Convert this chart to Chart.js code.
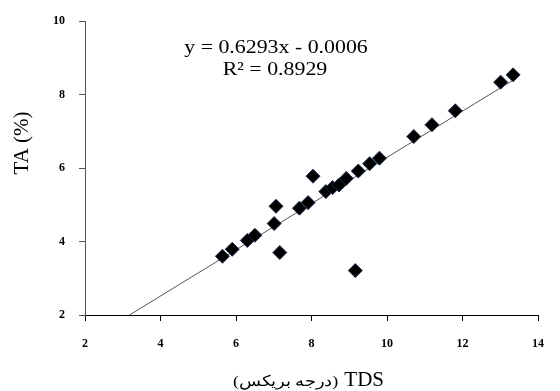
<!DOCTYPE html>
<html>
<head>
<meta charset="utf-8">
<script src="https://cdn.jsdelivr.net/npm/chart.js@4/dist/chart.umd.min.js"></script>
<style>
  body { margin: 0; background: #fff; }
  #wrap { width: 560px; height: 391px; }
</style>
</head>
<body>
<div id="wrap"><canvas id="tdsChart"></canvas></div>
<script>
// measured samples: TDS (degree Brix) vs TA (%)
const tdsValues = [5.64, 5.90, 6.30, 6.50, 7.01, 7.06, 7.16, 7.68, 7.91, 8.04, 8.38, 8.56,
                   8.73, 8.92, 9.16, 9.24, 9.54, 9.80, 10.71, 11.19, 11.81, 13.01, 13.34];
const taValues = [3.60, 3.79, 4.03, 4.17, 4.49, 4.96, 3.70, 4.91, 5.06, 5.78, 5.36, 5.47,
                  5.54, 5.72, 3.21, 5.92, 6.12, 6.27, 6.86, 7.18, 7.56, 8.34, 8.54];

// linear fit shown on the chart
const slope = 0.6293;
const intercept = -0.0006;
const rSquared = 0.8929;
const trendRange = [3.18, 13.4];

const xTicks = [2, 4, 6, 8, 10, 12, 14];
const yTicks = [2, 4, 6, 8, 10];

const xTitle = 'TDS';
const xTitleFa = '(درجه بریکس)';
const yTitle = 'TA (%)';

const points = tdsValues.map((x, i) => ({ x: x, y: taValues[i] }));
const trend = trendRange.map(x => ({ x: x, y: slope * x + intercept }));

const eqText = 'y = ' + slope.toFixed(4) + 'x - ' + Math.abs(intercept).toFixed(4);
const r2Text = 'R\u00B2 = ' + rSquared.toFixed(4);

const serif = '"Liberation Serif", "Times New Roman", serif';

// the source picture is a little stretched sideways, text too
function wideText(ctx, text, x, y, sx) {
    ctx.save();
    ctx.translate(x, y);
    ctx.scale(sx, 1);
    ctx.fillText(text, 0, 0);
    ctx.restore();
}

const textPlugin = {
    id: 'extraText',
    afterDraw(chart) {
        const ctx = chart.ctx;
        ctx.save();
        ctx.fillStyle = '#000';
        ctx.textBaseline = 'middle';

        // equation box
        ctx.textAlign = 'center';
        ctx.font = '19px ' + serif;
        wideText(ctx, eqText, 276, 48, 1.15);
        wideText(ctx, r2Text, 275, 70, 1.15);

        // x title
        ctx.textAlign = 'right';
        ctx.font = '21px ' + serif;
        ctx.fillText(xTitle, 384, 380);
        const tw = ctx.measureText(xTitle).width;
        ctx.font = '15px ' + serif;
        wideText(ctx, xTitleFa, 384 - tw - 6, 382, 1.2);

        // y title
        ctx.translate(22, 143);
        ctx.rotate(-Math.PI / 2);
        ctx.textAlign = 'center';
        ctx.font = '21px ' + serif;
        ctx.fillText(yTitle, 0, 0);
        ctx.restore();
    }
};

const ctx = document.getElementById('tdsChart').getContext('2d');
const chart = new Chart(ctx, {
    type: 'scatter',
    data: {
        datasets: [
            {
                label: 'trend',
                type: 'line',
                data: trend,
                borderColor: '#555',
                borderWidth: 1,
                pointRadius: 0,
                fill: false,
                order: 2
            },
            {
                label: 'TA',
                data: points,
                pointStyle: 'rectRot',
                pointRadius: 7,
                backgroundColor: '#000',
                borderColor: '#1c2c44',
                borderWidth: 1,
                order: 1
            }
        ]
    },
    options: {
        responsive: true,
        maintainAspectRatio: false,
        animation: false,
        layout: { padding: { top: 18, right: 9, left: 0, bottom: 0 } },
        plugins: {
            legend: { display: false },
            tooltip: { enabled: false }
        },
        scales: {
            x: {
                type: 'linear',
                min: 2,
                max: 14,
                afterBuildTicks: s => { s.ticks = xTicks.map(v => ({ value: v })); },
                afterFit: s => { s.height = 76; },
                ticks: {
                    color: '#000',
                    padding: 16,
                    font: { family: serif, weight: 'bold', size: 12 }
                },
                grid: {
                    drawOnChartArea: false,
                    drawTicks: true,
                    tickLength: 6,
                    color: '#000'
                },
                border: { color: '#000', width: 1 }
            },
            y: {
                min: 2,
                max: 10,
                afterBuildTicks: s => { s.ticks = yTicks.map(v => ({ value: v })); },
                afterFit: s => { s.width = 85; },
                ticks: {
                    color: '#000',
                    padding: 14,
                    font: { family: serif, weight: 'bold', size: 12 }
                },
                grid: {
                    drawOnChartArea: false,
                    drawTicks: true,
                    tickLength: 6,
                    color: '#555'
                },
                border: { color: '#555', width: 1 }
            }
        }
    },
    plugins: [textPlugin]
});
</script>
</body>
</html>
